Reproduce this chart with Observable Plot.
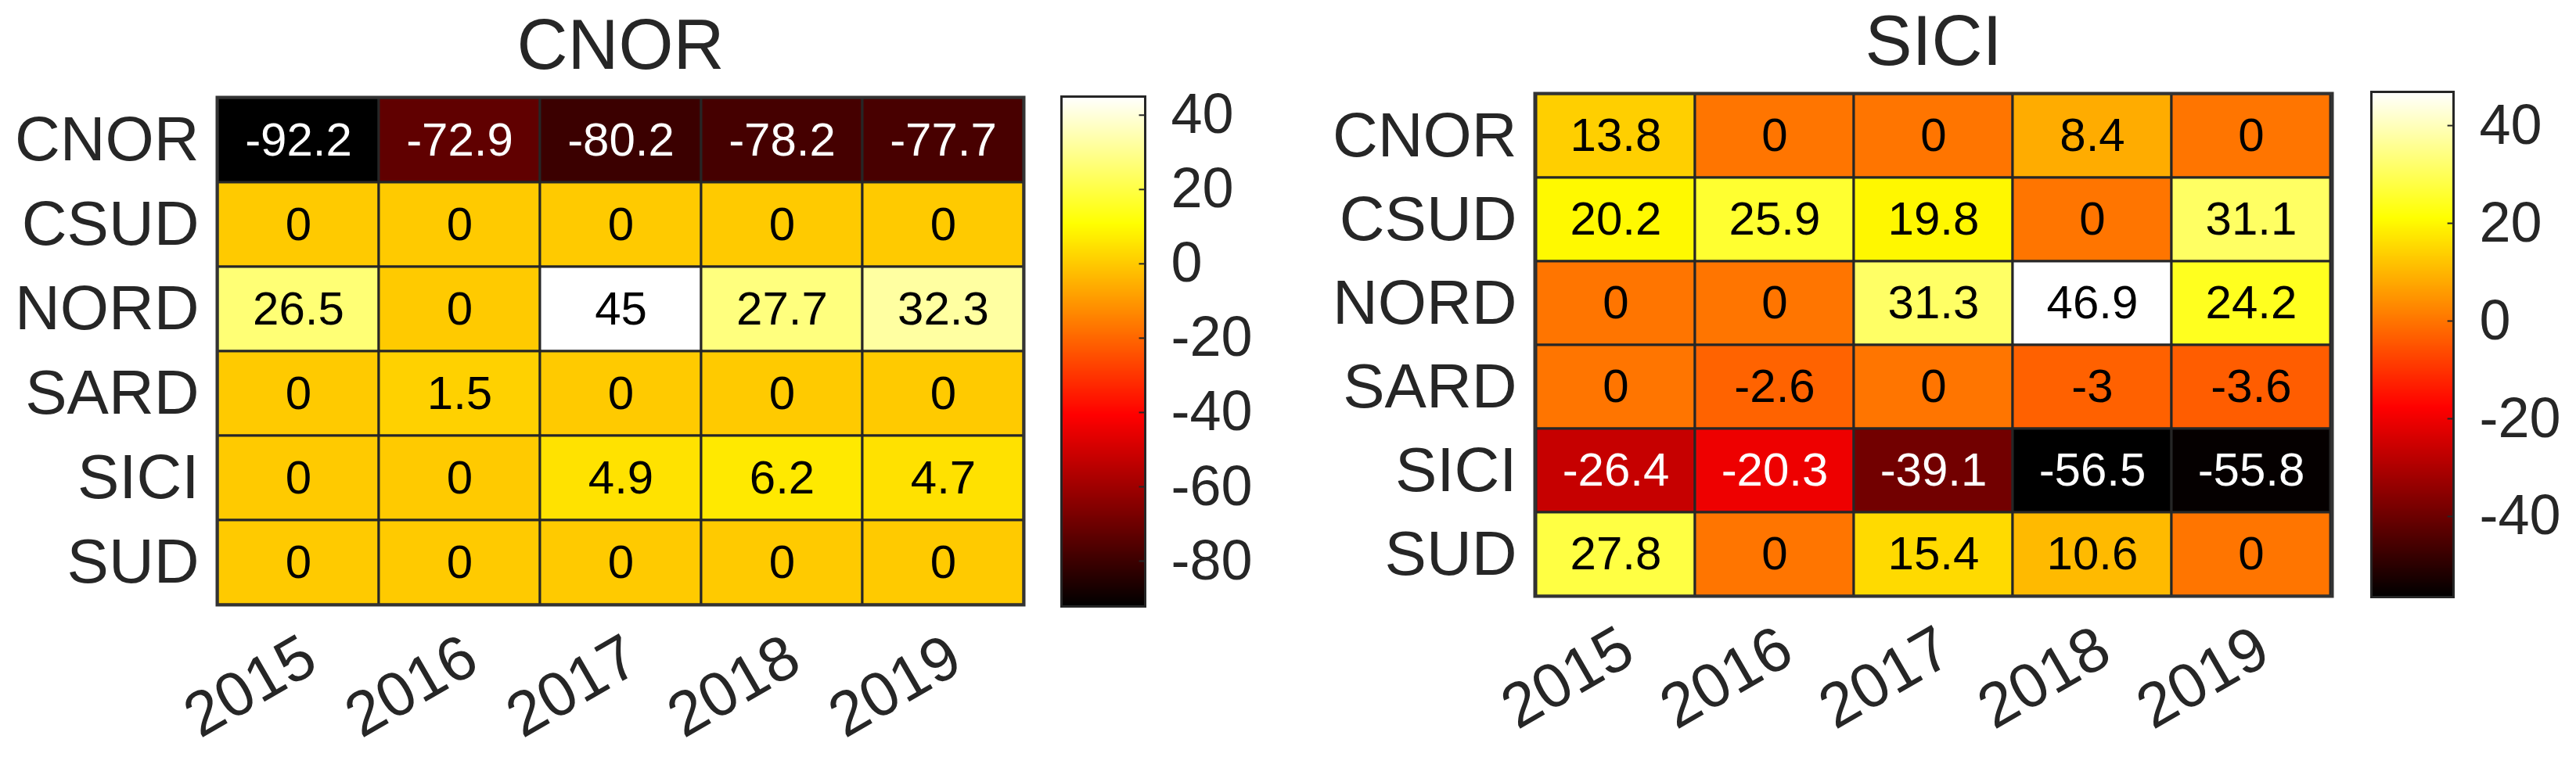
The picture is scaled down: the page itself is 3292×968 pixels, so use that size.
<!DOCTYPE html>
<html>
<head>
<meta charset="utf-8">
<script src="https://cdn.jsdelivr.net/npm/d3@7"></script>
<script src="https://cdn.jsdelivr.net/npm/@observablehq/plot@0.6"></script>
<style>
  html, body { margin: 0; padding: 0; background: #fff; }
  #page { position: relative; width: 3292px; height: 968px; overflow: hidden; background: #fff; }
  #page > div { position: absolute; top: 0; }
  svg { overflow: visible; }
</style>
</head>
<body>
<div id="page">
  <div id="hmLeft" style="left:0px"></div>
  <div id="cbLeft" style="left:1340px"></div>
  <div id="hmRight" style="left:1660px"></div>
  <div id="cbRight" style="left:3000px"></div>
</div>
<script>
// ---- data ----
const years = ["2015", "2016", "2017", "2018", "2019"];
const regions = ["CNOR", "CSUD", "NORD", "SARD", "SICI", "SUD"];

const titleLeft = "CNOR";
const cnorValues = [
  [-92.2, -72.9, -80.2, -78.2, -77.7], // CNOR
  [0, 0, 0, 0, 0],                     // CSUD
  [26.5, 0, 45, 27.7, 32.3],           // NORD
  [0, 1.5, 0, 0, 0],                   // SARD
  [0, 0, 4.9, 6.2, 4.7],               // SICI
  [0, 0, 0, 0, 0]                      // SUD
];
const cnorTicks = [40, 20, 0, -20, -40, -60, -80];

const titleRight = "SICI";
const siciValues = [
  [13.8, 0, 0, 8.4, 0],                // CNOR
  [20.2, 25.9, 19.8, 0, 31.1],         // CSUD
  [0, 0, 31.3, 46.9, 24.2],            // NORD
  [0, -2.6, 0, -3, -3.6],              // SARD
  [-26.4, -20.3, -39.1, -56.5, -55.8], // SICI
  [27.8, 0, 15.4, 10.6, 0]             // SUD
];
const siciTicks = [40, 20, 0, -20, -40];

// ---- MATLAB "hot" colormap ----
function hot(t) {
  t = Math.max(0, Math.min(1, t));
  const r = Math.min(1, t / 0.375);
  const g = Math.min(1, Math.max(0, (t - 0.375) / 0.375));
  const b = Math.max(0, (t - 0.75) / 0.25);
  return d3.rgb(r * 255, g * 255, b * 255).formatHex();
}

const FONT = "'Liberation Sans', Arial, Helvetica, sans-serif";
const INK = "#262626";

function toTable(values) {
  const rows = [];
  regions.forEach((r, i) => years.forEach((y, j) => rows.push({region: r, year: y, value: values[i][j]})));
  return rows;
}

function heatmap(values, title, m) {
  const data = toTable(values);
  const [lo, hi] = d3.extent(data, d => d.value);
  return Plot.plot({
    width: m.width, height: 968,
    marginLeft: m.left, marginRight: m.right, marginTop: m.top, marginBottom: m.bottom,
    style: {fontFamily: FONT, color: INK, background: "transparent"},
    x: {type: "band", domain: years, padding: 0},
    y: {type: "band", domain: regions, padding: 0},
    color: {type: "linear", domain: [lo, hi], interpolate: hot},
    marks: [
      Plot.cell(data, {x: "year", y: "region", fill: "value", stroke: INK, strokeWidth: 3}),
      Plot.text(data, {
        x: "year", y: "region", text: d => String(d.value),
        fill: d => ((d.value - lo) / (hi - lo) < 0.4 ? "white" : "black"),
        fontSize: 60, fontFamily: FONT
      }),
      Plot.frame({stroke: "#333", strokeWidth: 4}),
      Plot.axisY({tickSize: 0, tickPadding: 23, fontSize: 80, label: null, fill: INK}),
      Plot.axisX({tickSize: 0, tickPadding: 33, tickRotate: -30, textAnchor: "end", lineAnchor: "top", fontSize: 80, label: null, fill: INK}),
      Plot.text([title], {frameAnchor: "top", dy: -65, text: d => d, fontSize: 90, fill: INK, lineAnchor: "middle"})
    ]
  });
}

function colorbar(values, ticks, m) {
  const flat = values.flat();
  const [lo, hi] = d3.extent(flat);
  return Plot.plot({
    width: m.width, height: 968,
    marginLeft: m.left, marginRight: m.right, marginTop: m.top, marginBottom: m.bottom,
    style: {fontFamily: FONT, color: INK, background: "transparent"},
    x: {domain: [0, 1], axis: null},
    y: {domain: [lo, hi]},
    color: {type: "linear", domain: [lo, hi], interpolate: hot},
    marks: [
      Plot.raster({fill: (x, y) => y, x1: 0, x2: 1, y1: lo, y2: hi, pixelSize: 1}),
      Plot.ruleY(ticks, {y: d => d, x1: 0.93, x2: 1, stroke: INK, strokeWidth: 2}),
      Plot.frame({stroke: INK, strokeWidth: 3}),
      Plot.axisY(ticks, {anchor: "right", tickSize: 0, tickPadding: 33, fontSize: 72, label: null, fill: INK, tickFormat: d => String(d)})
    ]
  });
}

document.getElementById("hmLeft").append(heatmap(cnorValues, titleLeft, {width: 1340, left: 277, right: 32, top: 124, bottom: 195}));
document.getElementById("cbLeft").append(colorbar(cnorValues, cnorTicks, {width: 320, left: 16, right: 197, top: 123, bottom: 193}));
document.getElementById("hmRight").append(heatmap(siciValues, titleRight, {width: 1340, left: 301, right: 20, top: 119, bottom: 206}));
document.getElementById("cbRight").append(colorbar(siciValues, siciTicks, {width: 292, left: 30, right: 157, top: 117, bottom: 205}));
</script>
</body>
</html>
